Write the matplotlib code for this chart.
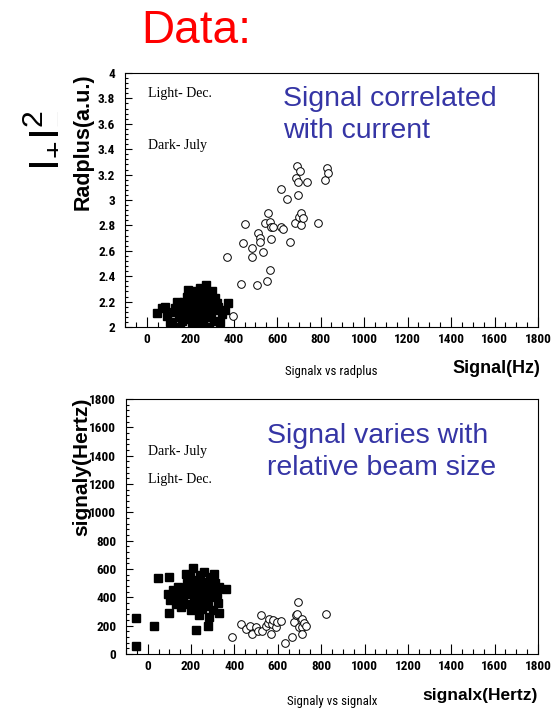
import matplotlib
matplotlib.use("Agg")
import matplotlib.pyplot as plt
from matplotlib.ticker import MultipleLocator, AutoMinorLocator
from matplotlib import font_manager

# --- Daten ---
# oben: Radplus gegen Signal
top_sq_x = [47, 70, 82, 95, 105, 116, 125, 131, 139, 146, 150, 154, 160, 165, 170, 178, 185, 190, 192, 195,
            198, 200, 205, 210, 212, 218, 220, 225, 228, 232, 235, 240, 242, 245, 248, 250, 253, 255, 258, 260,
            262, 265, 268, 270, 271, 275, 276, 280, 284, 285, 290, 295, 300, 305, 310, 314, 320, 325, 330, 337,
            345, 360, 375]
top_sq_y = [2.11, 2.15, 2.16, 2.09, 2.04, 2.03, 2.12, 2.15, 2.20, 2.18, 2.08, 2.00, 2.05, 2.13, 2.20, 2.10, 2.24, 2.15, 2.29, 2.06,
            2.20, 2.11, 2.26, 2.03, 2.17, 2.22, 2.09, 2.28, 2.14, 2.00, 2.19, 2.25, 2.07, 2.31, 2.16, 2.22, 2.11, 2.27, 2.18, 2.04,
            2.24, 2.13, 2.30, 2.20, 2.33, 2.08, 2.00, 2.26, 2.15, 2.00, 2.22, 2.10, 2.28, 2.18, 2.05, 2.23, 2.13, 2.19, 2.16, 2.04,
            2.10, 2.13, 2.19]

top_ci_x = [398, 368, 433, 444, 452, 482, 482, 509, 513, 520, 520, 535, 543, 555, 558, 566, 566, 574, 574, 581,
            616, 619, 627, 645, 658, 680, 688, 692, 696, 696, 699, 703, 711, 711, 718, 738, 787, 818, 828, 833]
top_ci_y = [2.09, 2.55, 2.34, 2.66, 2.81, 2.62, 2.55, 2.33, 2.74, 2.70, 2.67, 2.59, 2.82, 2.36, 2.90, 2.45, 2.83, 2.79, 2.69, 2.79,
            3.09, 2.79, 2.77, 3.01, 2.67, 2.82, 3.17, 3.27, 3.14, 3.04, 2.87, 3.23, 2.90, 2.80, 2.86, 3.14, 2.82, 3.16, 3.25, 3.21]

# unten: signaly gegen signalx
bot_sq_x = [-53, -53, 31, 46, 100, 100, 95, 105, 115, 125, 130, 140, 150, 155, 165, 170, 177, 180, 185, 190,
            195, 200, 205, 210, 212, 218, 222, 223, 228, 232, 238, 240, 245, 250, 252, 258, 261, 265, 270, 275,
            276, 280, 284, 288, 292, 298, 303, 307, 312, 318, 322, 330, 330, 363]
bot_sq_y = [55, 255, 196, 537, 544, 291, 420, 380, 450, 400, 350, 470, 420, 330, 380, 450, 567, 500, 350, 420,
            540, 310, 460, 608, 380, 520, 430, 172, 340, 480, 272, 560, 400, 450, 320, 510, 579, 370, 430, 480,
            196, 340, 260, 540, 400, 460, 310, 567, 500, 420, 360, 291, 470, 461]

bot_ci_x = [391, 430, 453, 470, 483, 499, 510, 522, 529, 545, 553, 560, 568, 573, 580, 591, 596, 614, 634, 667,
            675, 683, 690, 695, 698, 711, 713, 713, 720, 729, 821]
bot_ci_y = [118, 213, 177, 200, 142, 189, 160, 272, 165, 201, 220, 248, 142, 213, 240, 189, 225, 236, 76, 118,
            225, 272, 284, 367, 189, 189, 248, 142, 220, 201, 279]

blau = "#3535a5"

# schmale Schrift fuer die Zahlen suchen (ROOT-Stil)
namen = set(f.name for f in font_manager.fontManager.ttflist)
schmal = [n for n in ["Liberation Sans Narrow", "DejaVu Sans Condensed", "Roboto Condensed"] if n in namen]
tickfont = schmal + ["DejaVu Sans"]
tickkw = dict(family=tickfont, fontweight="bold", fontsize=9.5, fontstretch="condensed")
if not schmal:
    tickkw = dict(family=["Liberation Sans"], fontweight="bold", fontsize=8.5)

fig = plt.figure(figsize=(5.6, 7.11), dpi=100)
ax1 = fig.add_axes([0.2232, 0.5401, 0.7375, 0.3572])
ax2 = fig.add_axes([0.2250, 0.0802, 0.7357, 0.3586])


def style(ax, yticks):
    ax.set_xlim(-100, 1800)
    ax.xaxis.set_major_locator(MultipleLocator(200))
    ax.xaxis.set_minor_locator(MultipleLocator(50))
    ax.set_yticks(yticks)
    ax.yaxis.set_minor_locator(AutoMinorLocator(5))
    ax.tick_params(axis="x", which="major", direction="in", length=7, width=0.8, pad=4)
    ax.tick_params(axis="x", which="minor", direction="in", length=3.5, width=0.8)
    ax.tick_params(axis="y", which="major", direction="in", length=5, width=0.8, pad=7)
    ax.tick_params(axis="y", which="minor", direction="in", length=2.5, width=0.8)
    ax.set_xticks(ax.get_xticks())
    ax.set_xticklabels(["%d" % v for v in ax.get_xticks()], **tickkw)
    ax.set_yticklabels(["%g" % v for v in yticks], **tickkw)
    ax.set_xlim(-100, 1800)
    for s in ax.spines.values():
        s.set_linewidth(0.8)


ax1.plot(top_sq_x, top_sq_y, "ks", markersize=5.8)
ax1.plot(top_ci_x, top_ci_y, "o", mfc="white", mec="black", mew=0.7, markersize=5.5)
ax1.set_ylim(2, 4)
style(ax1, [2, 2.2, 2.4, 2.6, 2.8, 3, 3.2, 3.4, 3.6, 3.8, 4])
ax1.set_ylim(2, 4)

ax2.plot(bot_sq_x, bot_sq_y, "ks", markersize=5.8)
ax2.plot(bot_ci_x, bot_ci_y, "o", mfc="white", mec="black", mew=0.7, markersize=5.5)
style(ax2, list(range(0, 1801, 200)))
ax2.set_ylim(0, 1800)


def ftext(x, y, s, **kw):
    # Position in Pixeln von oben links
    fig.text(x / 560, 1 - y / 711, s, **kw)


serif = dict(family="Liberation Serif", fontsize=10, va="center", ha="left")
ftext(148, 94, "Light- Dec.", **serif)
ftext(148, 145, "Dark- July", **serif)
ftext(148, 451, "Dark- July", **serif)
ftext(148, 480, "Light- Dec.", **serif)

ftext(283, 86, "Signal correlated\nwith current", family="Liberation Sans", fontsize=20.5,
      color=blau, va="top", ha="left", linespacing=1.3)
ftext(267, 423, "Signal varies with\nrelative beam size", family="Liberation Sans", fontsize=20.5,
      color=blau, va="top", ha="left", linespacing=1.3)

# Achsenbeschriftungen
ftext(83, 73, "Radplus(a.u.)", family="Liberation Sans", fontweight="bold", fontsize=15.5,
      rotation=90, ha="center", va="top")
ftext(82, 398, "signaly(Hertz)", family="Liberation Sans", fontweight="bold", fontsize=15,
      rotation=90, ha="center", va="top")
ftext(540, 373, "Signal(Hz)", family="Liberation Sans", fontweight="bold", fontsize=13,
      ha="right", va="baseline")
ftext(538, 700, "signalx(Hertz)", family="Liberation Sans", fontweight="bold", fontsize=12.5,
      ha="right", va="baseline")
ftext(331, 371, "Signalx vs radplus", family=tickfont, fontsize=9.3, ha="center", va="center")
ftext(332, 701, "Signaly vs signalx", family=tickfont, fontsize=9.3, ha="center", va="center")

# Titel und Formel
ftext(141, 43, "Data:", family="Liberation Sans", fontsize=33, color="red", ha="left", va="baseline")
plt.rcParams["mathtext.fontset"] = "custom"
plt.rcParams["mathtext.rm"] = "Liberation Sans"
plt.rcParams["mathtext.it"] = "Liberation Sans"
ftext(40, 140, r"$\mathrm{I_{+}I_{-}^{2}}$", fontsize=31, rotation=90, ha="center", va="center")

fig.savefig("out.png", dpi=100)
